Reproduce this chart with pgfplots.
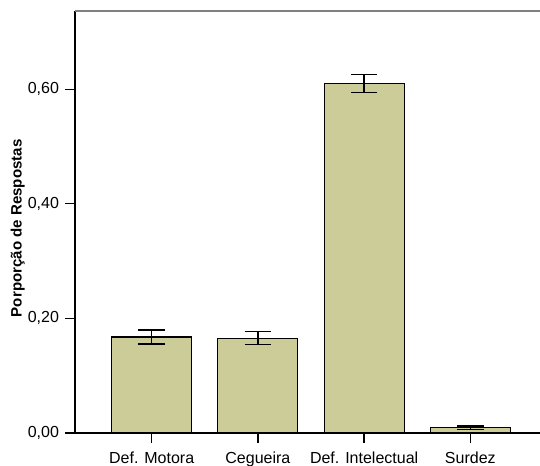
\documentclass[border=0pt]{standalone}
\usepackage{pgfplots}
\pgfplotsset{compat=1.18}
\usepackage{fontspec}
\setmainfont{Liberation Sans}
\definecolor{barfill}{RGB}{204,204,153}
\begin{document}
\begin{tikzpicture}
\path[use as bounding box] (-56.25pt,-24pt) rectangle (348.75pt,324.75pt);
\begin{axis}[
  at={(0,0)}, anchor=south west,
  scale only axis, width=348.75pt, height=316.5pt,
  xmin=-0.722, xmax=3.656, ymin=0, ymax=0.7365,
  axis x line*=bottom, axis y line*=left,
  axis line style={black, line width=1.1pt},
  xtick={0,1,2,3},
  xticklabels={Def. Motora, Cegueira, Def. Intelectual, Surdez},
  ytick={0,0.2,0.4,0.6},
  tick align=outside, major tick length=7.5pt,
  tick style={black, line width=1pt},
  /pgf/number format/.cd, fixed, fixed zerofill, precision=2, use comma, assume math mode=true,
  /pgfplots/.cd,
  tick label style={font=\fontsize{12pt}{14pt}\selectfont},
  yticklabel style={xshift=-1pt},
  xticklabel style={yshift=-3pt},
  ylabel={Porporção de Respostas},
  ylabel style={font=\bfseries\fontsize{11.3pt}{13pt}\selectfont, at={(axis description cs:-0.123,0.485)}, anchor=center, rotate=0},
  clip=false,
]
\addplot[ybar, bar width=60pt, fill=barfill, draw=black, line width=0.8pt,
  error bars/.cd, y dir=both, y explicit,
  error bar style={line width=1.1pt, black},
  error mark options={rotate=90, mark size=10pt, line width=1.1pt, black}]
  table[x=x, y=y, y error=e] {
x y e
0 0.1675 0.0120
1 0.1655 0.0115
2 0.6100 0.0160
3 0.0093 0.0030
};
\draw[gray, line width=0.8pt] (rel axis cs:0,1) -- (rel axis cs:1,1);
\end{axis}
\end{tikzpicture}
\end{document}
